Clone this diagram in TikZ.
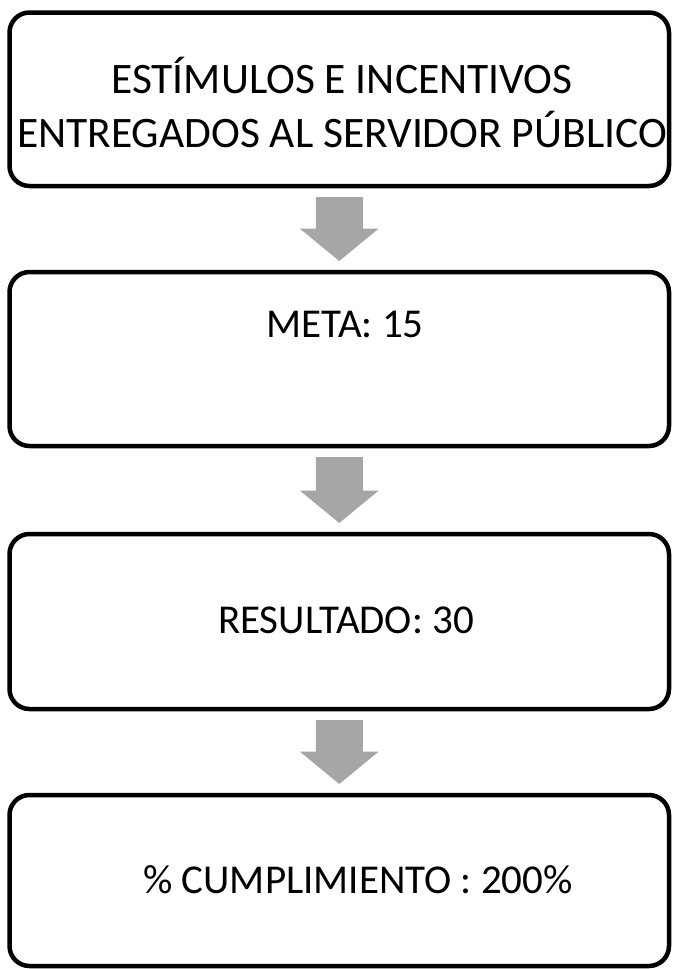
\documentclass[tikz,border=0pt]{standalone}
\usepackage{fontspec}
\setmainfont{Carlito}
\usetikzlibrary{calc}

\definecolor{arrowgray}{HTML}{A6A6A6}

\begin{document}
\begin{tikzpicture}[
        x=1pt, y=-1pt,
        box/.style={draw=black, line width=4.5pt, rounded corners=20pt,
            minimum width=659.5pt, outer sep=0pt, inner sep=0pt},
        bigtxt/.style={anchor=base, align=center, inner sep=0pt,
            font=\fontsize{43.5}{54}\selectfont},
        txt/.style={anchor=base, inner sep=0pt,
            font=\fontsize{41}{49}\selectfont},
        blockarrow/.style={fill=arrowgray, draw=none}
    ]
        \useasboundingbox[fill=white] (0, 0) rectangle (673, 969);

        % boxes
        \node[box, minimum height=173.5pt] (estimulos) at (339.25, 99.25) {};
        \node[box, minimum height=174pt] (meta) at (339.25, 359) {};
        \node[box, minimum height=175pt] (resultado) at (339.25, 621.5) {};
        \node[box, minimum height=171pt] (cumplimiento) at (339.25, 880.5) {};

        % texts
        \node[bigtxt] (estimulos-txt) at (342, 147)
            {ESTÍMULOS E INCENTIVOS\\ENTREGADOS AL SERVIDOR PÚBLICO};
        \node[txt] (meta-txt) at (345, 337) {META: 15};
        \node[txt] (resultado-txt) at (346, 633) {RESULTADO: 30};
        \node[txt] (cumplimiento-txt) at (358, 893) {\% CUMPLIMIENTO : 200\%};

        % arrows between the boxes
        \foreach \a/\b in {estimulos/meta, meta/resultado, resultado/cumplimiento}
            \fill[blockarrow] ($(\a.south)+(-23.5, 11)$) -- ($(\a.south)+(23.5, 11)$)
                -- ($(\b.north)+(23.5, -43.5)$) -- ($(\b.north)+(39.5, -43.5)$)
                -- ($(\b.north)+(0, -11)$)
                -- ($(\b.north)+(-39.5, -43.5)$) -- ($(\b.north)+(-23.5, -43.5)$) -- cycle;
    \end{tikzpicture}
\end{document}
